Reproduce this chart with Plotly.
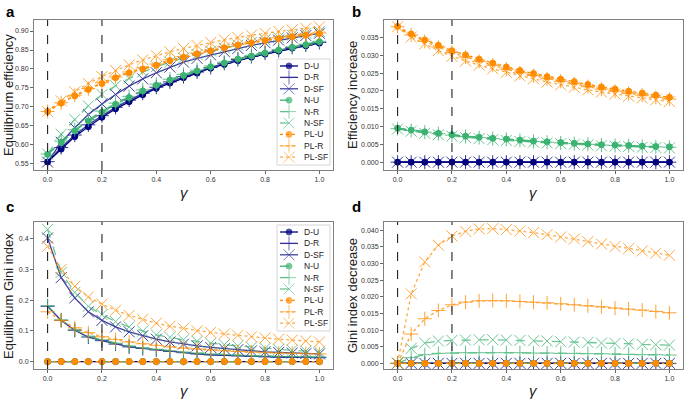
import plotly.graph_objects as go

# --- data ---
gamma = [round(0.05 * i, 2) for i in range(21)]

# a: equilibrium efficiency
eff_DU = [0.555, 0.589, 0.622, 0.648, 0.673, 0.695, 0.714, 0.732, 0.749, 0.763, 0.777,
          0.789, 0.802, 0.812, 0.822, 0.831, 0.839, 0.847, 0.855, 0.861, 0.868]
eff_DR = [0.556, 0.593, 0.626, 0.653, 0.677, 0.699, 0.718, 0.736, 0.752, 0.766, 0.780,
          0.792, 0.804, 0.815, 0.825, 0.833, 0.842, 0.849, 0.857, 0.863, 0.870]
eff_DSF = [0.555, 0.607, 0.645, 0.680, 0.708, 0.733, 0.755, 0.774, 0.790, 0.805, 0.818,
           0.828, 0.837, 0.846, 0.854, 0.862, 0.869, 0.876, 0.882, 0.888, 0.894]
eff_NU = [0.575, 0.607, 0.637, 0.663, 0.686, 0.707, 0.725, 0.742, 0.757, 0.771, 0.783,
          0.795, 0.806, 0.816, 0.826, 0.834, 0.842, 0.850, 0.857, 0.864, 0.872]
eff_NR = [0.576, 0.610, 0.640, 0.666, 0.689, 0.710, 0.728, 0.745, 0.760, 0.773, 0.786,
          0.797, 0.808, 0.818, 0.827, 0.836, 0.844, 0.851, 0.858, 0.865, 0.873]
eff_NSF = [0.576, 0.628, 0.667, 0.703, 0.733, 0.756, 0.775, 0.792, 0.806, 0.818, 0.829,
           0.838, 0.847, 0.855, 0.863, 0.870, 0.877, 0.883, 0.889, 0.894, 0.899]
eff_PLU = [0.688, 0.710, 0.729, 0.746, 0.762, 0.777, 0.790, 0.800, 0.810, 0.822, 0.831,
           0.840, 0.848, 0.856, 0.863, 0.869, 0.875, 0.880, 0.885, 0.889, 0.893]
eff_PLR = [0.688, 0.711, 0.731, 0.748, 0.764, 0.779, 0.792, 0.803, 0.813, 0.824, 0.833,
           0.842, 0.850, 0.858, 0.865, 0.871, 0.877, 0.882, 0.887, 0.891, 0.895]
eff_PLSF = [0.688, 0.716, 0.740, 0.762, 0.780, 0.796, 0.811, 0.824, 0.835, 0.845, 0.854,
            0.862, 0.870, 0.877, 0.883, 0.889, 0.894, 0.899, 0.903, 0.907, 0.911]

# b: efficiency increase
inc_D = [0.0] * 21
inc_NU = [0.0095, 0.0090, 0.0085, 0.0081, 0.0077, 0.0073, 0.0070, 0.0067, 0.0065, 0.0062, 0.0059,
          0.0057, 0.0055, 0.0053, 0.0051, 0.0049, 0.0048, 0.0047, 0.0045, 0.0044, 0.0043]
inc_NR = [0.0094, 0.0089, 0.0084, 0.0080, 0.0076, 0.0072, 0.0069, 0.0066, 0.0064, 0.0061, 0.0058,
          0.0056, 0.0054, 0.0052, 0.0050, 0.0048, 0.0047, 0.0046, 0.0044, 0.0043, 0.0042]
inc_NSF = [0.0093, 0.0087, 0.0081, 0.0077, 0.0073, 0.0069, 0.0066, 0.0063, 0.0061, 0.0058, 0.0056,
           0.0054, 0.0052, 0.0050, 0.0048, 0.0046, 0.0045, 0.0044, 0.0042, 0.0041, 0.0040]
inc_PLU = [0.0381, 0.0360, 0.0343, 0.0328, 0.0313, 0.0301, 0.0289, 0.0278, 0.0267, 0.0257, 0.0249,
           0.0240, 0.0233, 0.0226, 0.0218, 0.0211, 0.0205, 0.0199, 0.0194, 0.0188, 0.0182]
inc_PLR = [0.0380, 0.0357, 0.0339, 0.0323, 0.0308, 0.0295, 0.0283, 0.0272, 0.0261, 0.0251, 0.0243,
           0.0234, 0.0227, 0.0220, 0.0212, 0.0205, 0.0199, 0.0193, 0.0188, 0.0182, 0.0177]
inc_PLSF = [0.0380, 0.0351, 0.0332, 0.0313, 0.0297, 0.0284, 0.0272, 0.0262, 0.0252, 0.0242, 0.0234,
            0.0225, 0.0217, 0.0210, 0.0203, 0.0197, 0.0191, 0.0185, 0.0180, 0.0175, 0.0170]

# c: equilibrium Gini index
gini_U = [0.0] * 21
gini_DR = [0.180, 0.134, 0.102, 0.080, 0.068, 0.057, 0.048, 0.043, 0.038, 0.033, 0.029,
           0.025, 0.022, 0.020, 0.019, 0.017, 0.016, 0.015, 0.014, 0.014, 0.013]
gini_DSF = [0.402, 0.273, 0.207, 0.162, 0.134, 0.113, 0.097, 0.084, 0.073, 0.064, 0.057,
            0.051, 0.046, 0.042, 0.039, 0.035, 0.032, 0.030, 0.028, 0.026, 0.025]
gini_NR = [0.182, 0.136, 0.105, 0.083, 0.071, 0.060, 0.051, 0.045, 0.040, 0.035, 0.031,
           0.028, 0.025, 0.023, 0.021, 0.019, 0.018, 0.017, 0.016, 0.015, 0.015]
gini_NSF = [0.430, 0.290, 0.225, 0.180, 0.153, 0.130, 0.113, 0.099, 0.087, 0.079, 0.071,
            0.066, 0.060, 0.055, 0.051, 0.047, 0.043, 0.040, 0.037, 0.034, 0.032]
gini_PLR = [0.162, 0.134, 0.110, 0.094, 0.081, 0.072, 0.064, 0.058, 0.053, 0.048, 0.044,
            0.041, 0.038, 0.035, 0.033, 0.031, 0.030, 0.028, 0.027, 0.026, 0.025]
gini_PLSF = [0.375, 0.300, 0.245, 0.210, 0.187, 0.167, 0.150, 0.137, 0.125, 0.115, 0.108,
             0.100, 0.095, 0.090, 0.085, 0.081, 0.077, 0.073, 0.070, 0.067, 0.064]

# d: Gini index decrease
dec_zero = [0.0] * 21
dec_NR = [0.0, 0.0017, 0.0026, 0.0030, 0.0031, 0.0032, 0.0032, 0.0032, 0.0032, 0.0032, 0.0031,
          0.0031, 0.0030, 0.0030, 0.0029, 0.0029, 0.0028, 0.0027, 0.0026, 0.0026, 0.0025]
dec_NSF = [0.0, 0.0045, 0.0061, 0.0067, 0.0069, 0.0070, 0.0071, 0.0071, 0.0070, 0.0069, 0.0068,
           0.0067, 0.0065, 0.0064, 0.0063, 0.0061, 0.0060, 0.0059, 0.0057, 0.0056, 0.0055]
dec_PLR = [0.0, 0.0088, 0.0134, 0.0159, 0.0176, 0.0184, 0.0188, 0.0189, 0.0188, 0.0186, 0.0184,
           0.0182, 0.0179, 0.0176, 0.0173, 0.0170, 0.0166, 0.0163, 0.0160, 0.0156, 0.0152]
dec_PLSF = [0.0, 0.0209, 0.0305, 0.0355, 0.0383, 0.0397, 0.0404, 0.0405, 0.0402, 0.0398, 0.0393,
            0.0387, 0.0380, 0.0374, 0.0366, 0.0359, 0.0351, 0.0345, 0.0338, 0.0331, 0.0325]

names = ["D-U", "D-R", "D-SF", "N-U", "N-R", "N-SF", "PL-U", "PL-R", "PL-SF"]
panels = {
    "a": [eff_DU, eff_DR, eff_DSF, eff_NU, eff_NR, eff_NSF, eff_PLU, eff_PLR, eff_PLSF],
    "b": [inc_D, inc_D, inc_D, inc_NU, inc_NR, inc_NSF, inc_PLU, inc_PLR, inc_PLSF],
    "c": [gini_U, gini_DR, gini_DSF, gini_U, gini_NR, gini_NSF, gini_U, gini_PLR, gini_PLSF],
    "d": [dec_zero, dec_zero, dec_zero, dec_zero, dec_NR, dec_NSF, dec_zero, dec_PLR, dec_PLSF],
}
ylabels = {"a": "Equilibrium efficiency", "b": "Efficiency increase",
           "c": "Equilibrium Gini index", "d": "Gini index decrease"}

# --- styles ---
colors = {"D": "#000080", "N": "#3CB371", "PL": "#FF8C00"}
dashes = {"D": "solid", "N": "dash", "PL": "dot"}
symbols = {"U": "circle", "R": "cross-thin", "SF": "x-thin"}
msizes = {"U": 6, "R": 10, "SF": 11}
alphas = {"U": 1.0, "R": 0.8, "SF": 0.75}

axes = {"a": ("x", "y"), "b": ("x2", "y2"), "c": ("x3", "y3"), "d": ("x4", "y4")}


def style(name):
    net, top = name.split("-")
    c = colors[net]
    return dict(opacity=alphas[top],
                line=dict(color=c, dash=dashes[net], width=1.3),
                marker=dict(symbol=symbols[top], size=msizes[top], color=c,
                            line=dict(color=c, width=1)))


fig = go.Figure()
for p, series in panels.items():
    xa, ya = axes[p]
    for name, vals in zip(names, series):
        fig.add_trace(go.Scatter(x=gamma, y=vals, name=name, xaxis=xa, yaxis=ya,
                                 mode="lines+markers", showlegend=False, **style(name)))

# --- hand-made compact legends (matplotlib-like) on a pixel overlay axis ---
for top_px in (59, 225):
    left, right, bottom = 277, 330, top_px + 106
    fig.add_trace(go.Scatter(x=[left, right, right, left, left],
                             y=[top_px, top_px, bottom, bottom, top_px],
                             xaxis="x5", yaxis="y5", mode="lines", fill="toself",
                             fillcolor="rgba(255,255,255,0.85)",
                             line=dict(color="#d5d5d5", width=1),
                             showlegend=False, hoverinfo="skip"))
    for i, name in enumerate(names):
        yy = top_px + 7 + i * 11.4
        s = style(name)
        fig.add_trace(go.Scatter(x=[280, 289, 298], y=[yy, yy, yy], xaxis="x5", yaxis="y5",
                                 mode="lines+markers", showlegend=False, hoverinfo="skip",
                                 opacity=s["opacity"], line=s["line"],
                                 marker=dict(s["marker"], size=[0, s["marker"]["size"], 0])))
        fig.add_annotation(text=name, xref="x5", yref="y5", x=302, y=yy, xanchor="left",
                           yanchor="middle", showarrow=False,
                           font=dict(size=8.5, color="#222222"))

L1, R1 = 34 / 685, 333 / 685
L2, R2 = 384 / 685, 683 / 685
T1, B1 = 1 - 20 / 400, 1 - 170 / 400
T2, B2 = 1 - 222 / 400, 1 - 369 / 400

axcommon = dict(showline=True, mirror=True, linecolor="#808080", linewidth=1,
                ticks="outside", ticklen=3, tickcolor="#666666", showgrid=False,
                zeroline=False, automargin=False, tickfont=dict(size=7, color="#333333"))
xcommon = dict(axcommon, range=[-0.05, 1.05], tickvals=[0, 0.2, 0.4, 0.6, 0.8, 1.0],
               tickformat=".1f")

fig.update_layout(
    width=685, height=400,
    margin=dict(l=0, r=0, t=0, b=0),
    plot_bgcolor="rgba(0,0,0,0)", paper_bgcolor="white",
    font=dict(family="Liberation Sans, Arial, sans-serif", color="#222222"),
    xaxis=dict(xcommon, domain=[L1, R1], anchor="y"),
    yaxis=dict(axcommon, domain=[B1, T1], anchor="x", range=[0.534, 0.929],
               dtick=0.05, tick0=0.55, tickformat=".2f"),
    xaxis2=dict(xcommon, domain=[L2, R2], anchor="y2"),
    yaxis2=dict(axcommon, domain=[B1, T1], anchor="x2", range=[-0.0022, 0.0399],
                dtick=0.005, tick0=0, tickformat=".3f"),
    xaxis3=dict(xcommon, domain=[L1, R1], anchor="y3"),
    yaxis3=dict(axcommon, domain=[B2, T2], anchor="x3", range=[-0.024, 0.454],
                dtick=0.1, tick0=0, tickformat=".1f"),
    xaxis4=dict(xcommon, domain=[L2, R2], anchor="y4"),
    yaxis4=dict(axcommon, domain=[B2, T2], anchor="x4", range=[-0.0017, 0.0425],
                dtick=0.005, tick0=0, tickformat=".3f"),
    xaxis5=dict(domain=[0, 1], range=[0, 685], visible=False, fixedrange=True,
                anchor="y5"),
    yaxis5=dict(domain=[0, 1], range=[400, 0], visible=False, fixedrange=True,
                anchor="x5"),
)

# dashed vertical markers at gamma = 0 and 0.2
for xa, ya in axes.values():
    for xv in (0.0, 0.2):
        fig.add_shape(type="line", xref=xa, yref=ya + " domain", x0=xv, x1=xv, y0=0, y1=1,
                      line=dict(color="#222222", width=1.1, dash="dash"))

# axis titles and panel letters (pixel positions of the page)
title_pos = {"a": (8, 95, 184, 192), "b": (352, 95, 533, 192),
             "c": (8, 296, 184, 390), "d": (352, 296, 533, 390)}
for p, (yx, yy, gx, gy) in title_pos.items():
    fig.add_annotation(text=ylabels[p], xref="x5", yref="y5", x=yx, y=yy, textangle=-90,
                       showarrow=False, font=dict(size=13, color="#222222"))
    fig.add_annotation(text="<i>γ</i>", xref="x5", yref="y5", x=gx, y=gy,
                       showarrow=False, font=dict(size=15, color="#222222"))

for letter, (px, py) in {"a": (4, 1), "b": (350, 1), "c": (4, 196), "d": (350, 196)}.items():
    fig.add_annotation(text="<b>" + letter + "</b>", xref="paper", yref="paper",
                       x=px / 685, y=1 - py / 400, xanchor="left", yanchor="top",
                       showarrow=False, font=dict(size=15, color="black"))

# the page body has a default margin; drop it so the figure fills the window
fig.write_html("out.html", config={"displayModeBar": False},
               post_script="document.body.style.margin='0';")
